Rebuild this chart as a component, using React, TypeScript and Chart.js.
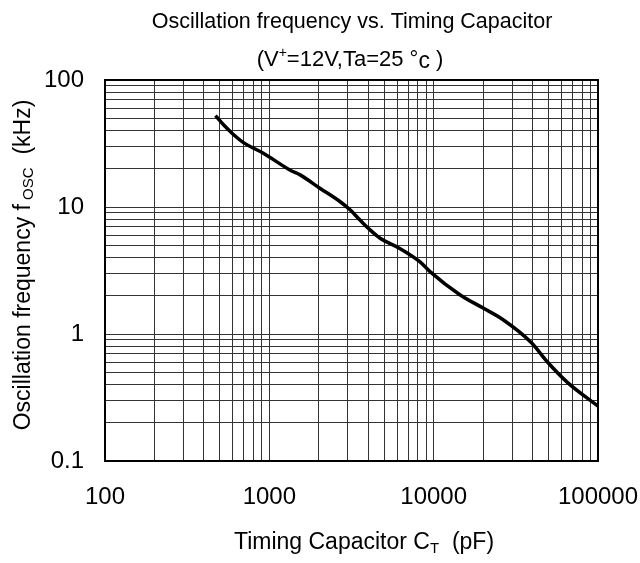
import React, { useEffect, useRef } from 'react';
import { Chart, registerables } from 'chart.js';

Chart.register(...registerables);

// ---- data ----
const capacitancePF = [470, 530, 600, 700, 920, 1340, 1540, 2040, 2700, 3100, 3560, 4100, 4700, 6250, 8260, 9500, 14500, 20000, 26600, 39500, 48800, 64600, 100000];
const frequencyKHz = [52.4, 44, 37.6, 32, 26.5, 19.5, 17.9, 14.0, 11.0, 9.5, 7.9, 6.6, 5.7, 4.7, 3.7, 3.1, 2.03, 1.6, 1.29, 0.85, 0.61, 0.42, 0.27];

const xMajorTicks = [100, 1000, 10000, 100000];
const xTickLabels = ['100', '1000', '10000', '100000'];
const yMajorTicks = [0.1, 1, 10, 100];
const yTickLabels = ['0.1', '1', '10', '100'];

const titleLine1 = 'Oscillation frequency vs. Timing Capacitor';

const FONT = '"Liberation Sans", Arial, sans-serif';

function logGrid(majors: number[]): number[] {
  const out: number[] = [];
  for (let i = 0; i < majors.length; i++) {
    out.push(majors[i]);
    if (i < majors.length - 1) {
      for (let m = 2; m <= 9; m++) out.push(majors[i] * m);
    }
  }
  return out;
}

function majorLabel(value: number, majors: number[], labels: string[]): string {
  for (let i = 0; i < majors.length; i++) {
    if (Math.abs(value - majors[i]) / majors[i] < 1e-6) return labels[i];
  }
  return '';
}

type Part = { text: string; size: number; dy: number };

function drawRich(ctx: CanvasRenderingContext2D, parts: Part[], cx: number, baseline: number) {
  let total = 0;
  for (const p of parts) {
    ctx.font = `${p.size}px ${FONT}`;
    total += ctx.measureText(p.text).width;
  }
  let x = cx - total / 2;
  ctx.textAlign = 'left';
  ctx.textBaseline = 'alphabetic';
  for (const p of parts) {
    ctx.font = `${p.size}px ${FONT}`;
    ctx.fillText(p.text, x, baseline + p.dy);
    x += ctx.measureText(p.text).width;
  }
}

const textPlugin = {
  id: 'richTexts',
  afterDraw(chart: any) {
    const ctx: CanvasRenderingContext2D = chart.ctx;
    const a = chart.chartArea;
    ctx.save();
    // frame
    ctx.strokeStyle = '#000';
    ctx.lineWidth = 2;
    ctx.strokeRect(a.left, a.top, a.right - a.left, a.bottom - a.top);

    ctx.fillStyle = '#000';
    // title
    drawRich(ctx, [{ text: titleLine1, size: 21.5, dy: 0 }], 352, 28);
    drawRich(
      ctx,
      [
        { text: '(V', size: 22, dy: 0 },
        { text: '+', size: 14, dy: -9 },
        { text: '=12V,Ta=25 \u00B0', size: 22, dy: 0 },
        { text: 'c', size: 23, dy: 2 },
        { text: ' )', size: 22, dy: 0 },
      ],
      350,
      66
    );
    // x title
    drawRich(
      ctx,
      [
        { text: 'Timing Capacitor C', size: 23, dy: 0 },
        { text: 'T', size: 15, dy: 4 },
        { text: '  (pF)', size: 23, dy: 0 },
      ],
      364,
      549
    );
    // y title (rotated)
    ctx.translate(30, 265);
    ctx.rotate(-Math.PI / 2);
    drawRich(
      ctx,
      [
        { text: 'Oscillation frequency f', size: 23, dy: 0 },
        { text: ' OSC', size: 15, dy: 3 },
        { text: '  (kHz)', size: 23, dy: 0 },
      ],
      0,
      0
    );
    ctx.restore();
  },
};

export default function App() {
  const canvasRef = useRef<HTMLCanvasElement | null>(null);

  useEffect(() => {
    document.body.style.margin = '0';
    const canvas = canvasRef.current;
    if (!canvas) return;
    const gridColor = '#333';
    const chart = new Chart(canvas, {
      type: 'line',
      data: {
        datasets: [
          {
            data: capacitancePF.map((c, i) => ({ x: c, y: frequencyKHz[i] })),
            borderColor: '#000',
            borderWidth: 3.5,
            pointRadius: 0,
            fill: false,
            cubicInterpolationMode: 'monotone',
          },
        ],
      },
      options: {
        animation: false,
        responsive: false,
        devicePixelRatio: 1,
        layout: { padding: { left: 0, top: 80, right: 42, bottom: 0 } },
        plugins: { legend: { display: false }, title: { display: false }, tooltip: { enabled: false } },
        scales: {
          x: {
            type: 'logarithmic',
            position: 'bottom',
            min: 100,
            max: 100000,
            afterBuildTicks: (scale: any) => {
              scale.ticks = logGrid(xMajorTicks).map((v) => ({ value: v }));
            },
            afterFit: (scale: any) => {
              scale.height = 102;
              scale.paddingLeft = 0;
              scale.paddingRight = 0;
            },
            grid: { color: gridColor, lineWidth: 1, drawTicks: false },
            border: { display: false },
            ticks: {
              autoSkip: false,
              maxRotation: 0,
              minRotation: 0,
              padding: 22,
              color: '#000',
              font: { family: FONT, size: 24 },
              callback: (value: any) => majorLabel(Number(value), xMajorTicks, xTickLabels),
            },
          },
          y: {
            type: 'logarithmic',
            position: 'left',
            min: 0.1,
            max: 100,
            afterBuildTicks: (scale: any) => {
              scale.ticks = logGrid(yMajorTicks).map((v) => ({ value: v }));
            },
            afterFit: (scale: any) => {
              scale.width = 105;
              scale.paddingTop = 0;
              scale.paddingBottom = 0;
            },
            grid: { color: gridColor, lineWidth: 1, drawTicks: false },
            border: { display: false },
            ticks: {
              autoSkip: false,
              padding: 21,
              color: '#000',
              font: { family: FONT, size: 24 },
              callback: (value: any) => majorLabel(Number(value), yMajorTicks, yTickLabels),
            },
          },
        },
      },
      plugins: [textPlugin],
    } as any);
    return () => chart.destroy();
  }, []);

  return (
    <div style={{ width: 640, height: 563 }}>
      <canvas ref={canvasRef} width={640} height={563} style={{ display: 'block' }} />
    </div>
  );
}
